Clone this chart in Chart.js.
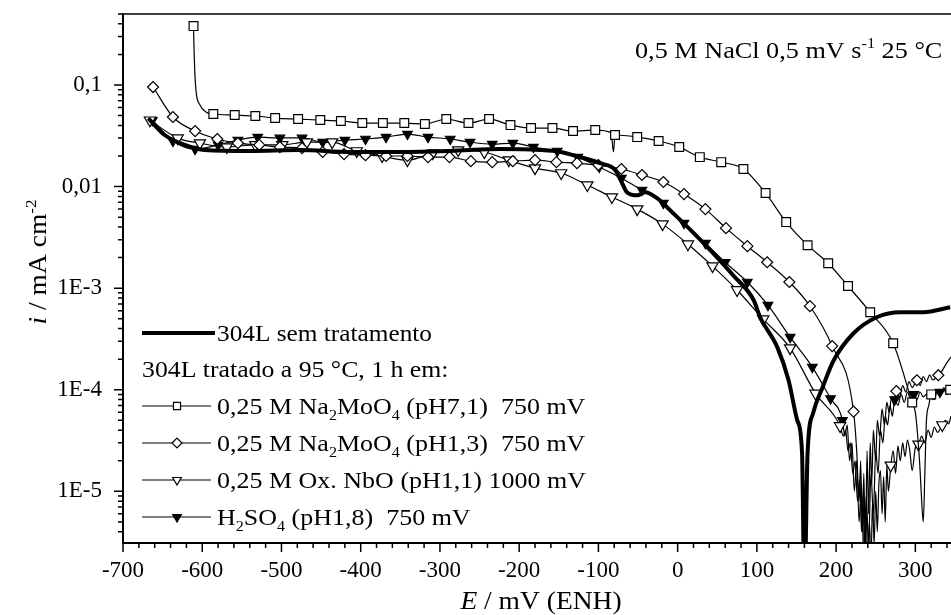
<!DOCTYPE html>
<html>
<head>
<meta charset="utf-8">
<script src="https://cdn.jsdelivr.net/npm/chart.js@4.4.0/dist/chart.umd.min.js"></script>
<style>
  html, body { margin: 0; padding: 0; background: #fff; }
</style>
</head>
<body>
<canvas id="chartPolarizacao" width="951" height="615"></canvas>
<script>
// Curvas de polarização, 0,5 M NaCl, 0,5 mV/s, 25 °C
// Valores: E em mV (ENH), i em mA/cm2

// 304L sem tratamento (linha grossa, sem marcadores)
const semTratE = [-668, -647, -622, -597, -540, -477, -413, -350, -287, -224, -174, -148, -123, -98, -79, -70, -64, -51, -41, -26, -6, 20, 45, 70, 96, 104, 126, 140, 151, 157, 160, 164, 171, 183, 197, 222, 252, 281, 310, 344];
const semTratI = [0.047, 0.032, 0.0257, 0.0229, 0.0224, 0.0229, 0.0219, 0.0219, 0.0224, 0.0234, 0.0229, 0.0219, 0.0195, 0.017, 0.0146, 0.0108, 0.0088, 0.0082, 0.0088, 0.0077, 0.0055, 0.0035, 0.0022, 0.00134, 0.00076, 0.00052, 0.00026, 0.000124, 0.00005, 0.000024, 0.000001, 0.000024, 0.000059, 0.000106, 0.000195, 0.00036, 0.00052, 0.00058, 0.00058, 0.00065];

// Na2MoO4 pH7,1 (quadrados) - pontos com marcador
const moo71E = [-611, -586, -559, -533, -508, -479, -451, -425, -398, -372, -345, -319, -292, -264, -238, -211, -185, -158, -132, -104, -79, -51, -24, 2, 28, 55, 83, 111, 137, 164, 190, 215, 243, 272, 296, 320, 344];
const moo71I = [0.38, 0.0518, 0.0506, 0.0495, 0.0473, 0.0462, 0.0452, 0.0442, 0.0422, 0.0422, 0.0422, 0.0413, 0.0462, 0.0422, 0.0462, 0.0403, 0.0377, 0.0377, 0.0352, 0.036, 0.0322, 0.0307, 0.0281, 0.0245, 0.0195, 0.0174, 0.0149, 0.00863, 0.00447, 0.00265, 0.00176, 0.00105, 0.00058, 0.000287, 0.000075, 0.00009, 0.0001];
// pontos intermediários (só linha)
const moo71LinhaE = [-610, -608, -603, -595, -84, -81, 300, 303, 306, 308, 310, 312, 314, 317, 324, 328, 332, 336, 340];
const moo71LinhaI = [0.18, 0.09, 0.064, 0.054, 0.034, 0.0219, 0.00006, 0.000035, 0.000016, 0.000008, 0.000005, 0.000015, 0.00005, 0.00007, 0.00008, 0.0001, 0.00009, 0.000105, 0.00009];

// Na2MoO4 pH1,3 (losangos)
const moo13E = [-662, -637, -609, -581, -555, -528, -502, -474, -448, -421, -394, -368, -341, -315, -288, -261, -234, -208, -180, -153, -127, -100, -71, -45, -18, 8, 35, 61, 88, 113, 141, 167, 195, 222, 276, 302, 329];
const moo13I = [0.0955, 0.0484, 0.0352, 0.0294, 0.0268, 0.0257, 0.0245, 0.0239, 0.0219, 0.0209, 0.0204, 0.02, 0.02, 0.0195, 0.0195, 0.0178, 0.0174, 0.0178, 0.0182, 0.0174, 0.017, 0.0163, 0.0149, 0.013, 0.0111, 0.00843, 0.006, 0.0039, 0.00259, 0.0018, 0.00115, 0.000665, 0.000269, 0.000061, 0.000097, 0.000124, 0.000139];
const moo13LinhaE = [226, 229, 231, 233, 235, 237, 239, 241, 243, 245, 247, 250, 252, 255, 258, 261, 264, 267, 270, 273, 280, 284, 288, 292, 296, 306, 310, 314, 318, 322, 333, 337, 341, 345];
const moo13LinhaI = [2.5e-5, 8e-6, 2e-5, 4e-6, 1.5e-5, 2e-6, 2.5e-5, 6e-6, 3e-5, 1.2e-5, 4e-5, 2e-5, 5e-5, 3.5e-5, 6.5e-5, 4.5e-5, 7.5e-5, 6e-5, 8.5e-5, 7e-5, 8.5e-5, 1.1e-4, 9.5e-5, 1.2e-4, 1.05e-4, 1.1e-4, 1.35e-4, 1.2e-4, 1.4e-4, 1.25e-4, 1.5e-4, 1.7e-4, 1.9e-4, 2.1e-4];

// Ox. NbO pH1,1 (triângulos abertos)
const nboE = [-666, -631, -603, -569, -533, -499, -468, -436, -405, -373, -341, -309, -277, -244, -213, -180, -147, -114, -83, -51, -19, 13, 44, 75, 108, 142, 174, 205, 269, 304, 334];
const nboI = [0.045, 0.03, 0.0268, 0.0245, 0.0257, 0.0257, 0.0274, 0.0274, 0.0224, 0.02, 0.0182, 0.0214, 0.0229, 0.0219, 0.0182, 0.0152, 0.0136, 0.01035, 0.00789, 0.006, 0.00427, 0.00271, 0.00165, 0.00096, 0.000495, 0.000257, 0.000092, 0.000044, 0.000018, 0.000029, 0.000045];
const nboLinhaE = [209, 212, 215, 218, 221, 224, 227, 230, 232, 234, 236, 238, 240, 242, 244, 246, 248, 250, 252, 254, 256, 258, 260, 262, 264, 266, 272, 275, 278, 281, 284, 287, 290, 293, 296, 300, 308, 312, 316, 320, 324, 328, 338, 342, 345];
const nboLinhaI = [3.5e-5, 4e-5, 2.5e-5, 3e-5, 1.5e-5, 2e-5, 8e-6, 1.3e-5, 4e-6, 9e-6, 2e-6, 7e-6, 2e-6, 5e-6, 2e-6, 8e-6, 3e-6, 1e-5, 4e-6, 1.2e-5, 1.6e-5, 6e-6, 1.4e-5, 5e-6, 1.8e-5, 1e-5, 2.5e-5, 1.5e-5, 2.8e-5, 2e-5, 3e-5, 2.2e-5, 3.2e-5, 2.5e-5, 1.6e-5, 2.7e-5, 3.5e-5, 3e-5, 4e-5, 3.4e-5, 4.3e-5, 3.8e-5, 5e-5, 4.6e-5, 5.5e-5];

// H2SO4 pH1,8 (triângulos cheios)
const h2so4E = [-663, -637, -609, -580, -555, -530, -502, -474, -448, -420, -394, -368, -341, -315, -287, -262, -234, -208, -182, -152, -126, -99, -71, -45, -18, 8, 35, 60, 88, 114, 142, 170, 193, 208, 274, 298, 331];
const h2so4I = [0.045, 0.0281, 0.0234, 0.0257, 0.0287, 0.0307, 0.0301, 0.0301, 0.0274, 0.0287, 0.0294, 0.0307, 0.0329, 0.0307, 0.0294, 0.0274, 0.0262, 0.0268, 0.0245, 0.0224, 0.0195, 0.0156, 0.0121, 0.00925, 0.00688, 0.00437, 0.00277, 0.0018, 0.00115, 0.00068, 0.000329, 0.000167, 0.000082, 0.00005, 0.00008, 0.00009, 0.000095];
const h2so4LinhaE = [211, 214, 217, 220, 223, 226, 229, 232, 235, 238, 241, 244, 247, 250, 253, 256, 259, 262, 265, 268, 271, 278, 282, 286, 290, 294, 302, 306, 310, 314, 318, 322, 326, 336, 340, 345];
const h2so4LinhaI = [3.5e-5, 4.5e-5, 2e-5, 3e-5, 1e-5, 2e-5, 5e-6, 1.2e-5, 2e-6, 9e-6, 3e-6, 1.5e-5, 6e-6, 2.5e-5, 1.5e-5, 4e-5, 3e-5, 5.5e-5, 4.5e-5, 7e-5, 5.5e-5, 7e-5, 9e-5, 7.5e-5, 9.5e-5, 8e-5, 8e-5, 9.5e-5, 8.5e-5, 9e-5, 9e-5, 8e-5, 9.5e-5, 1e-4, 9e-5, 9.5e-5];

// Eixos
const xTicks = [-700, -600, -500, -400, -300, -200, -100, 0, 100, 200, 300];
const yTicks = [1e-5, 1e-4, 1e-3, 0.01, 0.1];
const yTickLabels = ['1E-5', '1E-4', '1E-3', '0,01', '0,1'];

const FONTE = '"Liberation Serif", "Times New Roman", serif';

/**
 * Junta pontos com marcador e pontos só de linha, ordenados por E
 */
function montarSerie(mE, mI, lE, lI) {
  const pts = mE.map((x, i) => ({ x: x, y: mI[i], m: true }));
  if (lE) {
    lE.forEach((x, i) => pts.push({ x: x, y: lI[i], m: false }));
  }
  pts.sort((a, b) => a.x - b.x);
  return pts;
}

function raioMarcador(r) {
  return ctx => (ctx.raw && ctx.raw.m ? r : 0);
}

/**
 * Escreve texto com subscrito/sobrescrito e itálico (esticado na horizontal,
 * o texto do original é mais largo que a Liberation Serif)
 */
function escreverRico(ctx, x, y, partes, tam, estica, desenhar) {
  ctx.save();
  ctx.translate(x, y);
  ctx.scale(estica, 1);
  let cx = 0;
  partes.forEach(p => {
    const t = p.s ? tam * 0.62 : tam;
    ctx.font = (p.i ? 'italic ' : '') + t + 'px ' + FONTE;
    const dy = p.s === 'sub' ? tam * 0.28 : (p.s === 'sup' ? -tam * 0.42 : 0);
    if (desenhar !== false) ctx.fillText(p.t, cx, dy);
    cx += ctx.measureText(p.t).width;
  });
  ctx.restore();
  return cx * estica;
}

const legenda = [
  { tipo: 'grossa', y: 333, partes: [{ t: '304L sem tratamento' }] },
  { tipo: 'texto', y: 369, partes: [{ t: '304L tratado a 95 °C, 1 h em:' }] },
  { tipo: 'rect', y: 406, partes: [{ t: '0,25 M Na' }, { t: '2', s: 'sub' }, { t: 'MoO' }, { t: '4', s: 'sub' }, { t: ' (pH7,1)  750 mV' }] },
  { tipo: 'rectRot', y: 443, partes: [{ t: '0,25 M Na' }, { t: '2', s: 'sub' }, { t: 'MoO' }, { t: '4', s: 'sub' }, { t: ' (pH1,3)  750 mV' }] },
  { tipo: 'triangle', y: 480, partes: [{ t: '0,25 M Ox. NbO (pH1,1) 1000 mV' }] },
  { tipo: 'cheio', y: 517, partes: [{ t: 'H' }, { t: '2', s: 'sub' }, { t: 'SO' }, { t: '4', s: 'sub' }, { t: ' (pH1,8)  750 mV' }] }
];

const pluginDecoracao = {
  id: 'decoracao',
  afterDraw(chart) {
    const ctx = chart.ctx;
    const { left, right, top, bottom } = chart.chartArea;
    const sx = chart.scales.x;
    const sy = chart.scales.y;

    ctx.save();
    ctx.strokeStyle = '#000';
    ctx.fillStyle = '#000';

    // borda superior
    ctx.lineWidth = 1.5;
    ctx.beginPath();
    ctx.moveTo(left, top);
    ctx.lineTo(right, top);
    ctx.stroke();

    // marcas do eixo x (principais e secundárias)
    ctx.lineWidth = 1.5;
    ctx.beginPath();
    for (let v = -700; v <= 340; v += 20) {
      const px = sx.getPixelForValue(v);
      const len = v % 100 === 0 ? 9 : 5;
      ctx.moveTo(px, bottom);
      ctx.lineTo(px, bottom + len);
    }
    // marcas do eixo y (log)
    for (let e = -6; e <= 0; e++) {
      for (let k = 1; k <= 9; k++) {
        const v = k * Math.pow(10, e);
        if (v < sy.min || v > sy.max) continue;
        const py = sy.getPixelForValue(v);
        const len = k === 1 ? 9 : 5;
        ctx.moveTo(left - len, py);
        ctx.lineTo(left, py);
      }
    }
    ctx.stroke();

    // anotação
    ctx.textBaseline = 'alphabetic';
    ctx.textAlign = 'left';
    escreverRico(ctx, 635, 58, [{ t: '0,5 M NaCl 0,5 mV s' }, { t: '-1', s: 'sup' }, { t: ' 25 °C' }], 23, 1.14);

    // título eixo x
    const tx = [{ t: 'E', i: true }, { t: ' / mV (ENH)' }];
    const wx = escreverRico(ctx, 0, 0, tx, 25, 1.1, false);
    escreverRico(ctx, 541 - wx / 2, 609, tx, 25, 1.1);

    // título eixo y
    const ty = [{ t: 'i', i: true }, { t: ' / mA cm' }, { t: '-2', s: 'sup' }];
    const wy = escreverRico(ctx, 0, 0, ty, 25, 1.1, false);
    ctx.save();
    ctx.translate(46, 262);
    ctx.rotate(-Math.PI / 2);
    escreverRico(ctx, -wy / 2, 0, ty, 25, 1.1);
    ctx.restore();

    // legenda
    legenda.forEach(item => {
      const y = item.y;
      if (item.tipo === 'texto') {
        escreverRico(ctx, 142, y + 8, item.partes, 23, 1.12);
        return;
      }
      ctx.beginPath();
      ctx.lineWidth = item.tipo === 'grossa' ? 4 : 1.2;
      ctx.moveTo(142, y);
      ctx.lineTo(item.tipo === 'grossa' ? 215 : 211, y);
      ctx.stroke();
      if (item.tipo !== 'grossa') {
        const cheio = item.tipo === 'cheio';
        ctx.fillStyle = cheio ? '#000' : '#fff';
        ctx.lineWidth = 1.2;
        Chart.helpers.drawPoint(ctx, {
          pointStyle: cheio ? 'triangle' : item.tipo,
          radius: 5,
          rotation: (item.tipo === 'triangle' || cheio) ? 180 : 0,
          borderWidth: 1.2
        }, 177, y);
        ctx.fillStyle = '#000';
      }
      escreverRico(ctx, 217, y + 8, item.partes, 23, item.tipo === 'grossa' ? 1.1 : 1.13);
    });

    ctx.restore();
  }
};

const comum = {
  borderColor: '#000',
  borderWidth: 1.2,
  pointBorderColor: '#000',
  pointBorderWidth: 1.2,
  pointBackgroundColor: '#fff',
  cubicInterpolationMode: 'monotone',
  fill: false
};

const ctxCanvas = document.getElementById('chartPolarizacao');

new Chart(ctxCanvas, {
  type: 'line',
  data: {
    datasets: [
      Object.assign({}, comum, {
        label: '304L sem tratamento',
        data: montarSerie(semTratE, semTratI),
        borderWidth: 4,
        pointRadius: 0
      }),
      Object.assign({}, comum, {
        label: '0,25 M Na2MoO4 (pH7,1) 750 mV',
        data: montarSerie(moo71E, moo71I, moo71LinhaE, moo71LinhaI),
        pointStyle: 'rect',
        pointRadius: raioMarcador(6.2)
      }),
      Object.assign({}, comum, {
        label: '0,25 M Na2MoO4 (pH1,3) 750 mV',
        data: montarSerie(moo13E, moo13I, moo13LinhaE, moo13LinhaI),
        pointStyle: 'rectRot',
        pointRadius: raioMarcador(5.5)
      }),
      Object.assign({}, comum, {
        label: '0,25 M Ox. NbO (pH1,1) 1000 mV',
        data: montarSerie(nboE, nboI, nboLinhaE, nboLinhaI),
        pointStyle: 'triangle',
        pointRotation: 180,
        pointRadius: raioMarcador(6.5)
      }),
      Object.assign({}, comum, {
        label: 'H2SO4 (pH1,8) 750 mV',
        data: montarSerie(h2so4E, h2so4I, h2so4LinhaE, h2so4LinhaI),
        pointStyle: 'triangle',
        pointRotation: 180,
        pointBackgroundColor: '#000',
        pointRadius: raioMarcador(5.5)
      })
    ]
  },
  options: {
    responsive: false,
    animation: false,
    events: [],
    layout: { autoPadding: false, padding: { top: 14, right: 0, left: 0, bottom: 0 } },
    plugins: {
      legend: { display: false },
      tooltip: { enabled: false }
    },
    scales: {
      x: {
        type: 'linear',
        min: -700,
        max: 345,
        bounds: 'data',
        grid: { display: false, drawTicks: true, tickLength: 8 },
        border: { display: true, color: '#000', width: 2 },
        ticks: {
          color: '#000',
          padding: 6,
          maxRotation: 0,
          font: { family: FONTE, size: 23 },
          callback: v => String(v)
        },
        afterBuildTicks: scale => { scale.ticks = xTicks.map(v => ({ value: v })); },
        afterFit: scale => {
          scale.height = 72;
          scale.paddingLeft = 0;
          scale.paddingRight = 0;
        }
      },
      y: {
        type: 'logarithmic',
        min: 3.1e-6,
        max: 0.5,
        bounds: 'data',
        grid: { display: false, drawTicks: true, tickLength: 8 },
        border: { display: true, color: '#000', width: 2 },
        ticks: {
          color: '#000',
          padding: 13,
          font: { family: FONTE, size: 23 },
          callback: v => {
            const i = yTicks.findIndex(t => Math.abs(Math.log10(t) - Math.log10(v)) < 1e-6);
            return i >= 0 ? yTickLabels[i] : '';
          }
        },
        afterBuildTicks: scale => { scale.ticks = yTicks.map(v => ({ value: v })); },
        afterFit: scale => {
          scale.width = 123;
          scale.paddingTop = 0;
          scale.paddingBottom = 0;
        }
      }
    }
  },
  plugins: [pluginDecoracao]
});
</script>
</body>
</html>
